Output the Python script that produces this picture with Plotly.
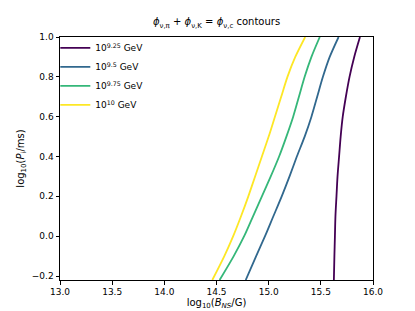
import plotly.graph_objects as go

# contour lines: log10(P_i/ms) values and corresponding log10(B_NS/G)
y_vals = [-0.22, -0.1, 0.0, 0.1, 0.2, 0.3, 0.4, 0.5, 0.6, 0.7, 0.8, 0.9, 1.0]
x_925 = [15.625, 15.63, 15.635, 15.64, 15.65, 15.66, 15.675, 15.69, 15.71, 15.74, 15.775, 15.82, 15.875]
x_950 = [14.78, 14.88, 14.965, 15.045, 15.125, 15.20, 15.27, 15.345, 15.41, 15.465, 15.52, 15.585, 15.67]
x_975 = [14.53, 14.665, 14.765, 14.85, 14.935, 15.02, 15.10, 15.17, 15.235, 15.29, 15.345, 15.41, 15.49]
x_1000 = [14.46, 14.575, 14.66, 14.735, 14.805, 14.87, 14.935, 15.0, 15.06, 15.12, 15.18, 15.255, 15.35]

series_names = ["10<sup>9.25</sup> GeV", "10<sup>9.5</sup> GeV",
                "10<sup>9.75</sup> GeV", "10<sup>10</sup> GeV"]
series_x = [x_925, x_950, x_975, x_1000]
colors = ["#440154", "#31688e", "#35b779", "#fde725"]

x_ticks = [13.0, 13.5, 14.0, 14.5, 15.0, 15.5, 16.0]
y_ticks = [-0.2, 0.0, 0.2, 0.4, 0.6, 0.8, 1.0]

fig = go.Figure()
for name, xs, c in zip(series_names, series_x, colors):
    fig.add_trace(go.Scatter(x=xs, y=y_vals, mode="lines", name=name,
                             line=dict(color=c, width=1.8, shape="spline", smoothing=0.8)))

font = "DejaVu Sans"
axis_common = dict(showline=True, linecolor="black", linewidth=1, mirror=True,
                   ticks="outside", ticklen=3.5, tickcolor="black",
                   showgrid=False, zeroline=False,
                   tickfont=dict(family=font, size=9, color="black"),
                   tickformat=".1f")

fig.update_layout(
    width=415, height=311,
    margin=dict(l=44, r=50, t=29, b=39),
    paper_bgcolor="white", plot_bgcolor="white",
    title=dict(text="<i>ϕ</i><sub>ν,π</sub> + <i>ϕ</i><sub>ν,K</sub> = <i>ϕ</i><sub>ν,c</sub> contours",
               x=0.5, xanchor="center", xref="paper", y=0.955, yanchor="middle",
               font=dict(family=font, size=10, color="black")),
    xaxis=dict(range=[13.0, 16.0], tickvals=x_ticks,
               title=dict(text="log<sub>10</sub>(<i>B<sub>NS</sub></i>/G)", standoff=1,
                          font=dict(family=font, size=10, color="black")),
               **axis_common),
    yaxis=dict(range=[-0.22, 1.0], tickvals=y_ticks,
               title=dict(text="log<sub>10</sub>(<i>P</i><sub>i</sub>/ms)", standoff=5,
                          font=dict(family=font, size=10, color="black")),
               **axis_common),
    legend=dict(x=-0.015, y=1.015, xanchor="left", yanchor="top",
                bgcolor="rgba(255,255,255,0)", borderwidth=0,
                font=dict(family=font, size=9, color="black"),
                tracegroupgap=0, itemwidth=30),
    showlegend=True,
)

fig.write_html("out.html")
